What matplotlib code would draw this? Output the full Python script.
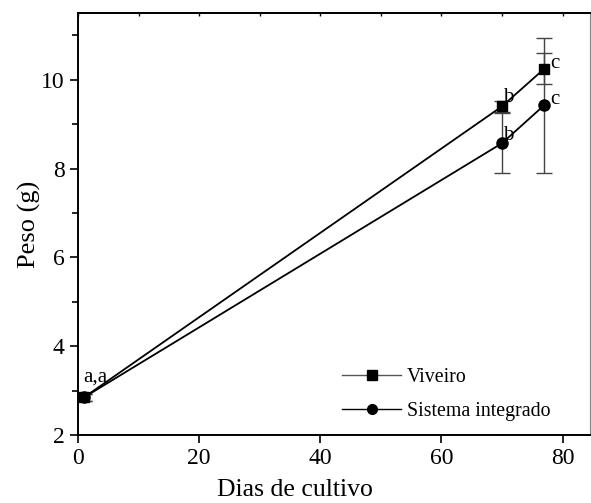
import numpy as np
import matplotlib.pyplot as plt
from matplotlib.ticker import MultipleLocator
from matplotlib.lines import Line2D

plt.rcParams['font.family'] = ['Liberation Serif', 'DejaVu Serif']

# dados
dias = [1, 70, 77]
viveiro = [2.85, 9.40, 10.25]
viveiro_err = [0.08, 0.12, 0.35]
integrado = [2.85, 8.57, 9.43]
integrado_err = [0.08, 0.67, 1.52]
letras_viveiro = ['', 'b', 'c']
letras_integrado = ['', 'b', 'c']

fig = plt.figure(figsize=(5.91, 5.03), dpi=100)
ax = fig.add_axes([0.132, 0.135, 0.866, 0.839])

ax.errorbar(dias, viveiro, yerr=viveiro_err, color='black', marker='s', ms=7.5,
            lw=1.3, ecolor='#444444', elinewidth=1.0, capsize=6, capthick=1.0)
ax.errorbar(dias, integrado, yerr=integrado_err, color='black', marker='o', ms=8,
            lw=1.3, ecolor='#444444', elinewidth=1.0, capsize=6, capthick=1.0)

# letras
ax.text(70.2, 9.50, letras_viveiro[1], fontsize=15, va='baseline', ha='left')
ax.text(70.1, 8.65, letras_integrado[1], fontsize=15, va='baseline', ha='left')
ax.text(78.0, 10.27, letras_viveiro[2], fontsize=15, va='baseline', ha='left')
ax.text(78.0, 9.46, letras_integrado[2], fontsize=15, va='baseline', ha='left')
ax.text(0.8, 3.2, 'a,a', fontsize=15, va='baseline', ha='left')

ax.set_xlim(0, 84.5)
ax.set_ylim(2, 11.5)
ax.xaxis.set_major_locator(MultipleLocator(20))
ax.xaxis.set_minor_locator(MultipleLocator(10))
ax.yaxis.set_major_locator(MultipleLocator(2))
ax.yaxis.set_minor_locator(MultipleLocator(1))
ax.tick_params(which='both', direction='out', labelsize=17, width=1.2, pad=3.5)
ax.tick_params(which='major', length=6)
ax.tick_params(axis='y', which='minor', length=4)
ax.tick_params(axis='x', which='minor', length=1.5, direction='inout')

top = ax.secondary_xaxis('top')
top.xaxis.set_major_locator(MultipleLocator(10))
top.tick_params(direction='in', length=2, width=1.0, labeltop=False)

for s in ['left', 'bottom']:
    ax.spines[s].set_linewidth(1.4)
top.spines['top'].set_linewidth(1.4)
ax.spines['top'].set_linewidth(1.4)
ax.spines['right'].set_linewidth(0.8)
ax.spines['right'].set_color('#888888')

ax.set_xlabel('Dias de cultivo', fontsize=18.5, va='baseline')
ax.xaxis.set_label_coords(0.424, -0.144)
ax.set_ylabel('Peso (g)', fontsize=19)
ax.yaxis.set_label_coords(-0.072, 0.5)

handles = [
    Line2D([], [], color='#555555', lw=1.0, marker='s', ms=6.5, mfc='black', mec='black'),
    Line2D([], [], color='black', lw=1.0, marker='o', ms=7, mfc='black', mec='black'),
]
ax.legend(handles, ['Viveiro', 'Sistema integrado'], loc='lower right',
          bbox_to_anchor=(0.958, -0.008), frameon=False, fontsize=14.3,
          handlelength=2.95, handletextpad=0.3, labelspacing=0.75)

fig.savefig('out.png', dpi=100)
